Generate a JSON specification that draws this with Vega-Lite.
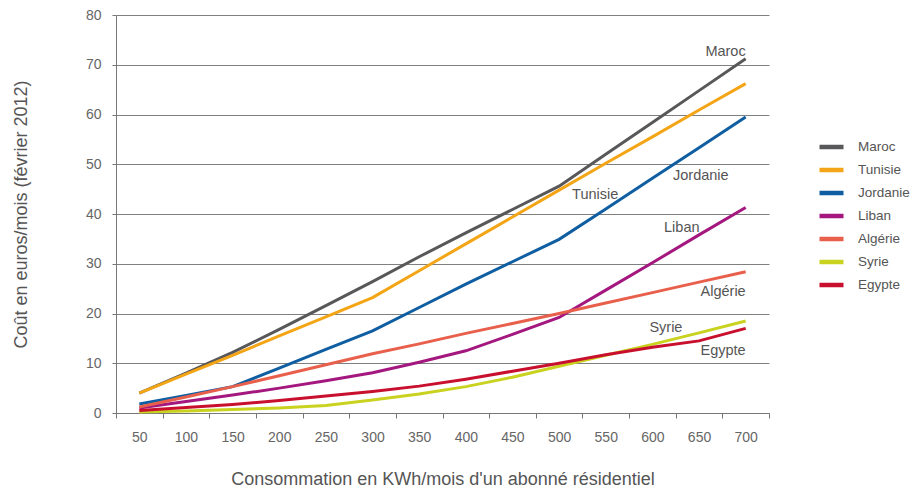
{
  "$schema": "https://vega.github.io/schema/vega-lite/v6.json",
  "width": 653,
  "height": 398,
  "autosize": {"type": "none"},
  "padding": {"left": 116, "top": 15, "right": 141, "bottom": 81},
  "background": "white",
  "config": {
    "font": "Liberation Sans",
    "view": {"stroke": null},
    "legend": {
      "orient": "none",
      "legendX": 701,
      "legendY": 121.6,
      "padding": 0,
      "symbolType": "stroke",
      "symbolSize": 576,
      "symbolStrokeWidth": 4.5,
      "clipHeight": 20.8,
      "rowPadding": 2,
      "labelFontSize": 13.5,
      "labelColor": "#555555",
      "labelOffset": 12,
      "labelLimit": 200,
      "title": null
    }
  },
  "datasets": {
    "series": [
      {"country": "Maroc", "kwh": 50, "cout": 4.0}, {"country": "Maroc", "kwh": 100, "cout": 8.0}, {"country": "Maroc", "kwh": 150, "cout": 12.2}, {"country": "Maroc", "kwh": 200, "cout": 16.8}, {"country": "Maroc", "kwh": 250, "cout": 21.6}, {"country": "Maroc", "kwh": 300, "cout": 26.4}, {"country": "Maroc", "kwh": 350, "cout": 31.4}, {"country": "Maroc", "kwh": 400, "cout": 36.2}, {"country": "Maroc", "kwh": 450, "cout": 40.9}, {"country": "Maroc", "kwh": 500, "cout": 45.6}, {"country": "Maroc", "kwh": 550, "cout": 52.0}, {"country": "Maroc", "kwh": 600, "cout": 58.4}, {"country": "Maroc", "kwh": 650, "cout": 64.8}, {"country": "Maroc", "kwh": 700, "cout": 71.2},
      {"country": "Tunisie", "kwh": 50, "cout": 4.0}, {"country": "Tunisie", "kwh": 100, "cout": 7.8}, {"country": "Tunisie", "kwh": 150, "cout": 11.6}, {"country": "Tunisie", "kwh": 200, "cout": 15.5}, {"country": "Tunisie", "kwh": 250, "cout": 19.3}, {"country": "Tunisie", "kwh": 300, "cout": 23.2}, {"country": "Tunisie", "kwh": 350, "cout": 28.6}, {"country": "Tunisie", "kwh": 400, "cout": 34.0}, {"country": "Tunisie", "kwh": 450, "cout": 39.4}, {"country": "Tunisie", "kwh": 500, "cout": 44.8}, {"country": "Tunisie", "kwh": 550, "cout": 50.2}, {"country": "Tunisie", "kwh": 600, "cout": 55.5}, {"country": "Tunisie", "kwh": 650, "cout": 60.9}, {"country": "Tunisie", "kwh": 700, "cout": 66.2},
      {"country": "Jordanie", "kwh": 50, "cout": 1.8}, {"country": "Jordanie", "kwh": 100, "cout": 3.5}, {"country": "Jordanie", "kwh": 150, "cout": 5.3}, {"country": "Jordanie", "kwh": 200, "cout": 9.0}, {"country": "Jordanie", "kwh": 250, "cout": 12.8}, {"country": "Jordanie", "kwh": 300, "cout": 16.5}, {"country": "Jordanie", "kwh": 350, "cout": 21.2}, {"country": "Jordanie", "kwh": 400, "cout": 25.9}, {"country": "Jordanie", "kwh": 450, "cout": 30.4}, {"country": "Jordanie", "kwh": 500, "cout": 34.9}, {"country": "Jordanie", "kwh": 550, "cout": 41.0}, {"country": "Jordanie", "kwh": 600, "cout": 47.2}, {"country": "Jordanie", "kwh": 650, "cout": 53.3}, {"country": "Jordanie", "kwh": 700, "cout": 59.5},
      {"country": "Liban", "kwh": 50, "cout": 1.0}, {"country": "Liban", "kwh": 100, "cout": 2.3}, {"country": "Liban", "kwh": 150, "cout": 3.6}, {"country": "Liban", "kwh": 200, "cout": 5.0}, {"country": "Liban", "kwh": 250, "cout": 6.5}, {"country": "Liban", "kwh": 300, "cout": 8.1}, {"country": "Liban", "kwh": 350, "cout": 10.2}, {"country": "Liban", "kwh": 400, "cout": 12.5}, {"country": "Liban", "kwh": 450, "cout": 15.8}, {"country": "Liban", "kwh": 500, "cout": 19.2}, {"country": "Liban", "kwh": 550, "cout": 24.7}, {"country": "Liban", "kwh": 600, "cout": 30.2}, {"country": "Liban", "kwh": 650, "cout": 35.8}, {"country": "Liban", "kwh": 700, "cout": 41.3},
      {"country": "Algérie", "kwh": 50, "cout": 1.2}, {"country": "Algérie", "kwh": 100, "cout": 3.2}, {"country": "Algérie", "kwh": 150, "cout": 5.3}, {"country": "Algérie", "kwh": 200, "cout": 7.5}, {"country": "Algérie", "kwh": 250, "cout": 9.7}, {"country": "Algérie", "kwh": 300, "cout": 11.9}, {"country": "Algérie", "kwh": 350, "cout": 13.9}, {"country": "Algérie", "kwh": 400, "cout": 16.0}, {"country": "Algérie", "kwh": 450, "cout": 18.0}, {"country": "Algérie", "kwh": 500, "cout": 20.0}, {"country": "Algérie", "kwh": 550, "cout": 22.1}, {"country": "Algérie", "kwh": 600, "cout": 24.2}, {"country": "Algérie", "kwh": 650, "cout": 26.3}, {"country": "Algérie", "kwh": 700, "cout": 28.4},
      {"country": "Syrie", "kwh": 50, "cout": 0.2}, {"country": "Syrie", "kwh": 100, "cout": 0.4}, {"country": "Syrie", "kwh": 150, "cout": 0.7}, {"country": "Syrie", "kwh": 200, "cout": 1.0}, {"country": "Syrie", "kwh": 250, "cout": 1.5}, {"country": "Syrie", "kwh": 300, "cout": 2.6}, {"country": "Syrie", "kwh": 350, "cout": 3.8}, {"country": "Syrie", "kwh": 400, "cout": 5.3}, {"country": "Syrie", "kwh": 450, "cout": 7.2}, {"country": "Syrie", "kwh": 500, "cout": 9.4}, {"country": "Syrie", "kwh": 550, "cout": 11.6}, {"country": "Syrie", "kwh": 600, "cout": 13.8}, {"country": "Syrie", "kwh": 650, "cout": 16.1}, {"country": "Syrie", "kwh": 700, "cout": 18.5},
      {"country": "Egypte", "kwh": 50, "cout": 0.5}, {"country": "Egypte", "kwh": 100, "cout": 1.1}, {"country": "Egypte", "kwh": 150, "cout": 1.7}, {"country": "Egypte", "kwh": 200, "cout": 2.5}, {"country": "Egypte", "kwh": 250, "cout": 3.4}, {"country": "Egypte", "kwh": 300, "cout": 4.3}, {"country": "Egypte", "kwh": 350, "cout": 5.4}, {"country": "Egypte", "kwh": 400, "cout": 6.8}, {"country": "Egypte", "kwh": 450, "cout": 8.4}, {"country": "Egypte", "kwh": 500, "cout": 10.0}, {"country": "Egypte", "kwh": 550, "cout": 11.7}, {"country": "Egypte", "kwh": 600, "cout": 13.2}, {"country": "Egypte", "kwh": 650, "cout": 14.5}, {"country": "Egypte", "kwh": 700, "cout": 17.0}
    ]
  },
  "encoding": {
    "x": {
      "field": "kwh",
      "type": "ordinal",
      "scale": {"type": "band", "domain": [50, 100, 150, 200, 250, 300, 350, 400, 450, 500, 550, 600, 650, 700], "paddingInner": 0, "paddingOuter": 0},
      "axis": {
        "title": "Consommation en KWh/mois d'un abonné résidentiel",
        "titleFontSize": 18,
        "titleFontWeight": "normal",
        "titleColor": "#555555",
        "titleY": 57,
        "titleBaseline": "top",
        "labelAngle": 0,
        "labelFontSize": 14,
        "labelColor": "#666666",
        "labelPadding": 12,
        "tickBand": "extent",
        "tickSize": 5,
        "tickColor": "#777777",
        "domainColor": "#777777",
        "grid": false
      }
    },
    "y": {
      "field": "cout",
      "type": "quantitative",
      "scale": {"domain": [0, 80], "nice": false},
      "axis": {
        "title": "Coût en euros/mois (février 2012)",
        "titleFontSize": 18,
        "titleFontWeight": "normal",
        "titleColor": "#555555",
        "titleX": -86,
        "values": [0, 10, 20, 30, 40, 50, 60, 70, 80],
        "labelFontSize": 14,
        "labelColor": "#666666",
        "labelPadding": 11,
        "tickSize": 4,
        "tickColor": "#777777",
        "domainColor": "#777777",
        "grid": true,
        "gridColor": "#808080",
        "gridWidth": 1
      }
    }
  },
  "layer": [
    {
      "data": {"name": "series"},
      "mark": {"type": "line", "strokeWidth": 3},
      "encoding": {
        "color": {
          "field": "country",
          "type": "nominal",
          "scale": {
            "domain": ["Maroc", "Tunisie", "Jordanie", "Liban", "Algérie", "Syrie", "Egypte"],
            "range": ["#58585a", "#f4a516", "#0f5ea2", "#a3177f", "#e8604c", "#c9d21f", "#c8102e"]
          }
        }
      }
    },
    {
      "data": {"values": [{"label": "Maroc", "kwh": 700, "cout": 72.6}, {"label": "Algérie", "kwh": 700, "cout": 24.3}, {"label": "Egypte", "kwh": 700, "cout": 12.5}]},
      "mark": {"type": "text", "align": "right", "baseline": "middle", "dx": 0, "fontSize": 14.5, "color": "#555555"},
      "encoding": {"text": {"field": "label"}}
    },
    {
      "data": {"values": [{"label": "Tunisie", "kwh": 500, "cout": 43.8}]},
      "mark": {"type": "text", "align": "left", "baseline": "middle", "dx": 13, "fontSize": 14.5, "color": "#555555"},
      "encoding": {"text": {"field": "label"}}
    },
    {
      "data": {"values": [{"label": "Jordanie", "kwh": 650, "cout": 47.6}]},
      "mark": {"type": "text", "align": "left", "baseline": "middle", "dx": -26, "fontSize": 14.5, "color": "#555555"},
      "encoding": {"text": {"field": "label"}}
    },
    {
      "data": {"values": [{"label": "Liban", "kwh": 650, "cout": 37.2}]},
      "mark": {"type": "text", "align": "left", "baseline": "middle", "dx": -35, "fontSize": 14.5, "color": "#555555"},
      "encoding": {"text": {"field": "label"}}
    },
    {
      "data": {"values": [{"label": "Syrie", "kwh": 600, "cout": 17.1}]},
      "mark": {"type": "text", "align": "left", "baseline": "middle", "dx": -3, "fontSize": 14.5, "color": "#555555"},
      "encoding": {"text": {"field": "label"}}
    }
  ]
}
